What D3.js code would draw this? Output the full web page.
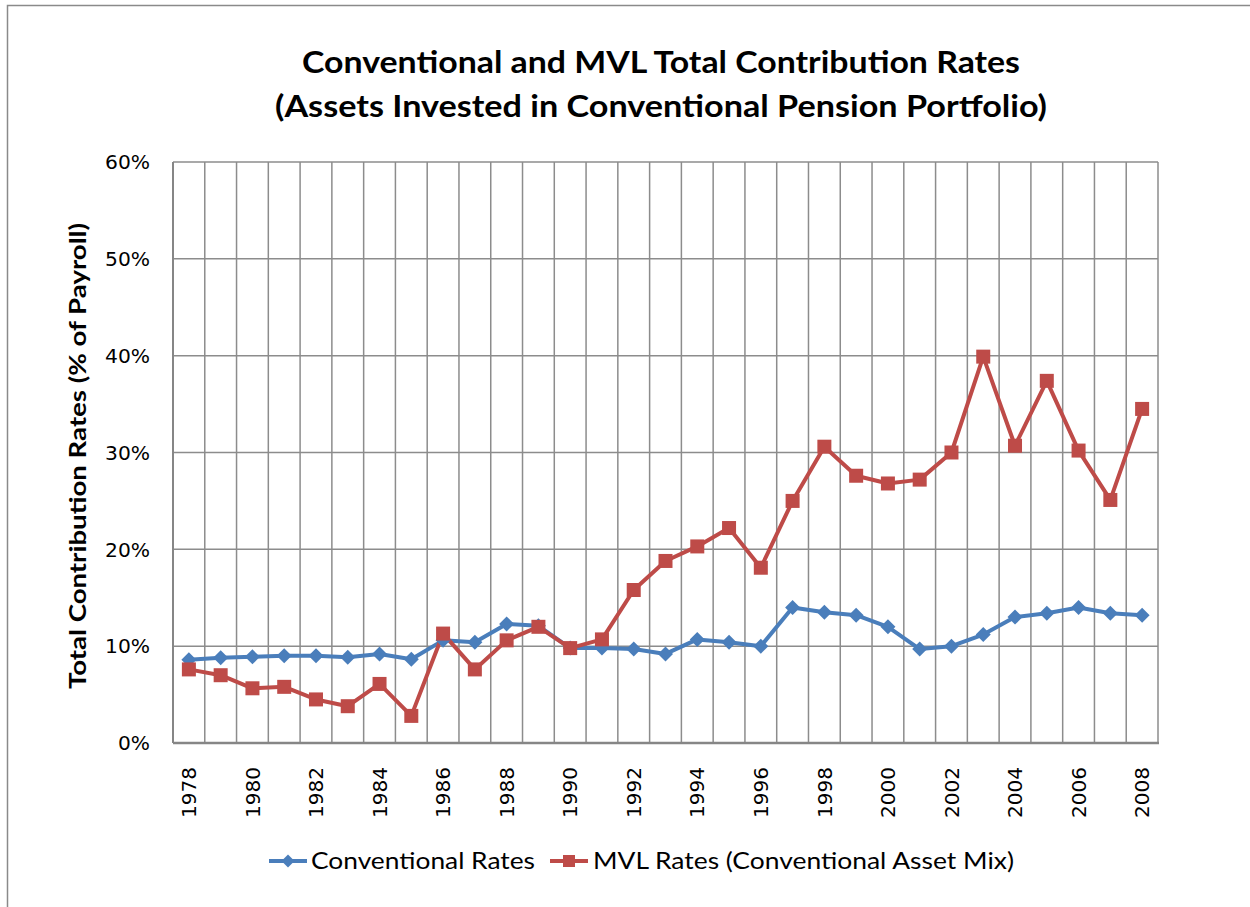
<!DOCTYPE html>
<html>
<head>
<meta charset="utf-8">
<script src="https://cdn.jsdelivr.net/npm/d3@7"></script>
<style>
  html, body { margin: 0; padding: 0; background: #fff; }
  svg { display: block; }
  .tick { font-family: 'DejaVu Sans', 'Liberation Sans', Arial, sans-serif; }
</style>
</head>
<body>
<svg id="chart" width="1250" height="907"></svg>
<script>
const years = d3.range(1978, 2009).map(String);
const conventionalRates = [8.6, 8.8, 8.9, 9.0, 9.0, 8.85, 9.2, 8.65, 10.6, 10.4, 12.3, 12.1, 9.8,
  9.8, 9.7, 9.2, 10.7, 10.4, 10.0, 14.0, 13.5, 13.2, 12.0, 9.7, 10.0, 11.2, 13.0, 13.4, 14.0, 13.4, 13.2];
const mvlRates = [7.6, 7.0, 5.65, 5.8, 4.5, 3.8, 6.1, 2.8, 11.3, 7.6, 10.6, 12.0, 9.8,
  10.7, 15.8, 18.8, 20.3, 22.2, 18.1, 25.0, 30.6, 27.6, 26.8, 27.2, 30.0, 39.9, 30.7, 37.4, 30.2, 25.1, 34.5];
const yTicks = [0, 10, 20, 30, 40, 50, 60];
const xTickLabels = years.filter((d, i) => i % 2 === 0);
const seriesNames = ["Conventional Rates", "MVL Rates (Conventional Asset Mix)"];

const blue = "#4A7EBB", red = "#BE4B48", grid = "#8c8c8c";
const svg = d3.select("#chart");

// outer chart border
svg.append("rect").attr("x", 7.5).attr("y", 5.5).attr("width", 1300).attr("height", 1000)
  .attr("fill", "none").attr("stroke", "#8a8a8a").attr("stroke-width", 1.5);

const L = 173, R = 1158, T = 162, B = 743;
const x = d3.scaleBand().domain(years).range([L, R]).padding(0);
const y = d3.scaleLinear().domain([0, 60]).range([B, T]);
const cx = d => x(d) + x.bandwidth() / 2;

// horizontal gridlines
svg.append("g").selectAll("line").data(yTicks).join("line")
  .attr("x1", L).attr("x2", R).attr("y1", d => y(d)).attr("y2", d => y(d))
  .attr("stroke", grid).attr("stroke-width", 1.5);
// vertical gridlines at category boundaries
const bounds = years.map(d => x(d)).concat([R]);
svg.append("g").selectAll("line").data(bounds).join("line")
  .attr("x1", d => d).attr("x2", d => d).attr("y1", T).attr("y2", B)
  .attr("stroke", grid).attr("stroke-width", 1.5);
// axes lines
svg.append("line").attr("x1", L).attr("x2", L).attr("y1", T).attr("y2", B)
  .attr("stroke", "#868686").attr("stroke-width", 2);
svg.append("line").attr("x1", L).attr("x2", R + 1).attr("y1", B).attr("y2", B)
  .attr("stroke", "#868686").attr("stroke-width", 2.5);

// y tick labels
svg.append("g").selectAll("text").data(yTicks).join("text")
  .attr("class", "tick")
  .attr("x", 150).attr("y", d => y(d)).attr("dy", "0.36em")
  .attr("text-anchor", "end").attr("font-size", 20)
  .attr("textLength", d => d === 0 ? 32 : 45).attr("lengthAdjust", "spacingAndGlyphs")
  .attr("fill", "#000").text(d => d + "%");

// x tick labels (rotated)
svg.append("g").selectAll("text").data(xTickLabels).join("text")
  .attr("class", "tick")
  .attr("transform", d => `translate(${cx(d)},767) rotate(-90)`)
  .attr("dy", "0.36em").attr("text-anchor", "end")
  .attr("font-size", 20).attr("textLength", 51).attr("lengthAdjust", "spacingAndGlyphs")
  .attr("fill", "#000").text(d => d);

// titles
svg.append("text").attr("x", 661).attr("y", 73).attr("text-anchor", "middle")
  .attr("font-family", "Lato").attr("font-weight", "bold").attr("font-size", 31)
  .attr("textLength", 718).attr("lengthAdjust", "spacingAndGlyphs")
  .text("Conventional and MVL Total Contribution Rates");
svg.append("text").attr("x", 661).attr("y", 117).attr("text-anchor", "middle")
  .attr("font-family", "Lato").attr("font-weight", "bold").attr("font-size", 31)
  .attr("textLength", 772).attr("lengthAdjust", "spacingAndGlyphs")
  .text("(Assets Invested in Conventional Pension Portfolio)");
svg.append("text").attr("transform", "translate(86,456) rotate(-90)").attr("text-anchor", "middle")
  .attr("font-family", "Lato").attr("font-weight", "bold").attr("font-size", 23)
  .attr("textLength", 466).attr("lengthAdjust", "spacingAndGlyphs")
  .text("Total Contribution Rates (% of Payroll)");

// lines
const line = d3.line().x((d, i) => cx(years[i])).y(d => y(d));
svg.append("path").datum(conventionalRates).attr("d", line)
  .attr("fill", "none").attr("stroke", blue).attr("stroke-width", 4).attr("stroke-linejoin", "round");
svg.append("path").datum(mvlRates).attr("d", line)
  .attr("fill", "none").attr("stroke", red).attr("stroke-width", 4).attr("stroke-linejoin", "round");

// markers
const diamond = (s) => `M0,${-s}L${s},0L0,${s}L${-s},0Z`;
svg.append("g").selectAll("path").data(conventionalRates).join("path")
  .attr("transform", (d, i) => `translate(${cx(years[i])},${y(d)})`)
  .attr("d", diamond(7.5)).attr("fill", blue);
svg.append("g").selectAll("rect").data(mvlRates).join("rect")
  .attr("x", (d, i) => cx(years[i]) - 7).attr("y", d => y(d) - 7)
  .attr("width", 14).attr("height", 14).attr("fill", red);

// legend
const lg = svg.append("g");
lg.append("line").attr("x1", 269).attr("x2", 307).attr("y1", 861).attr("y2", 861).attr("stroke", blue).attr("stroke-width", 4);
lg.append("path").attr("transform", "translate(288,861)").attr("d", diamond(6.5)).attr("fill", blue);
lg.append("text").attr("x", 311).attr("y", 869).attr("font-family", "Lato").attr("font-size", 24)
  .attr("textLength", 224).attr("lengthAdjust", "spacingAndGlyphs").text(seriesNames[0]);
lg.append("line").attr("x1", 550).attr("x2", 588).attr("y1", 861).attr("y2", 861).attr("stroke", red).attr("stroke-width", 4);
lg.append("rect").attr("x", 563).attr("y", 855).attr("width", 12).attr("height", 12).attr("fill", red);
lg.append("text").attr("x", 593).attr("y", 869).attr("font-family", "Lato").attr("font-size", 24)
  .attr("textLength", 421).attr("lengthAdjust", "spacingAndGlyphs").text(seriesNames[1]);
</script>
</body>
</html>
